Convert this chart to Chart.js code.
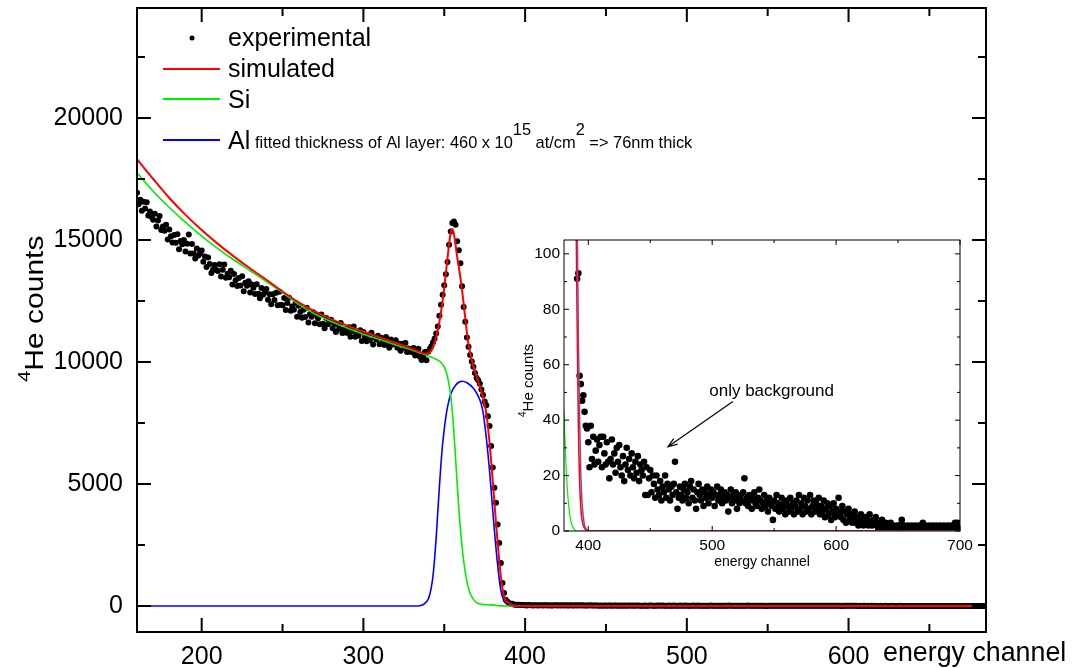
<!DOCTYPE html>
<html>
<head>
<meta charset="utf-8">
<script src="https://cdn.jsdelivr.net/npm/chart.js@4.4.0/dist/chart.umd.min.js"></script>
<style>
  body { margin: 0; background: #fff; }
  #box { position: relative; width: 1080px; height: 668px; overflow: hidden; }
  #main { position: absolute; left: 0; top: 0; }
  #inset { position: absolute; left: 500px; top: 232px; }
</style>
</head>
<body>
<div id="box">
  <canvas id="main" width="1080" height="668"></canvas>
  <canvas id="inset" width="480" height="345"></canvas>
</div>
<script>
var fontStack = '"Liberation Sans", Arial, Helvetica, sans-serif';
Chart.defaults.font.family = fontStack;
Chart.defaults.color = '#000';

// measured spectrum, one value per channel starting at firstChannel
var firstChannel = 160;
var expCounts = [
  16940, 16460, 16650, 16200, 16570, 16290, 16550, 16000, 16170, 15940,
  15830, 16080, 15550, 15800, 15980, 15410, 15550, 15380, 15620, 15020,
  15430, 15156, 14902, 15208, 14884, 15240, 14624, 14958, 14822, 14996,
  14530, 14850, 15230, 14450, 14840, 14450, 14246, 14652, 14368, 14454,
  14570, 14110, 14320, 13890, 14280, 14020, 13650, 13778, 13972, 13766,
  13730, 14008, 13506, 13784, 13992, 13450, 13618, 13476, 13744, 13172,
  13610, 13354, 13118, 13442, 13136, 13510, 12904, 13248, 13122, 13306,
  12850, 13176, 13042, 12788, 13184, 12800, 12610, 13030, 12760, 12860,
  12990, 12550, 12780, 12370, 12780, 12540, 12840, 12330, 12880, 12350,
  12330, 12618, 12126, 12414, 12632, 12100, 12276, 12142, 12418, 11854,
  12300, 12048, 11816, 12144, 11842, 12220, 11620, 11970, 11850, 12040,
  11590, 11922, 11794, 11546, 11948, 11570, 11384, 11808, 11542, 11646,
  11730, 11379, 11558, 11232, 11556, 11360, 11601, 11192, 11363, 11209,
  11195, 11428, 11036, 11274, 11452, 11030, 11175, 11075, 11305, 10860,
  11225, 11032, 10854, 11121, 10888, 11200, 10722, 11009, 10921, 11078,
  10725, 10992, 10894, 10701, 11028, 10730, 10582, 10924, 10716, 10803,
  10890, 10580, 10745, 10460, 10745, 10580, 10782, 10414, 10556, 10418,
  10410, 10570, 10265, 10425, 10545, 10215, 10080, 10240, 10410, 10070,
  10420, 10530, 10650, 10800, 10950, 11170, 11450, 11900, 12350, 12760,
  13150, 13600, 14100, 14800, 15350, 15700, 15760, 15620, 14950, 14580,
  14050, 13100, 12250, 11650, 11000, 10620, 10290, 10020, 9800, 9550,
  9340, 9250, 9110, 8870, 8650, 8380, 8230, 7780, 7380, 6560,
  5680, 4850, 4230, 3340, 2580, 1760, 940, 530, 260, 180,
  120, 91, 93, 56, 53, 47, 49, 43, 38, 37,
  32, 23, 38, 26, 34, 24, 29, 33, 25, 31,
  34, 23, 34, 28, 24, 32, 25, 19, 26, 33,
  24, 28, 21, 30, 25, 31, 23, 20, 27, 18,
  24, 30, 22, 26, 20, 28, 23, 19, 25, 21,
  27, 18, 24, 22, 20, 25, 13, 23, 13, 19,
  22, 14, 20, 17, 12, 20, 15, 13, 18, 11,
  16, 14, 20, 12, 17, 15, 11, 16, 13, 17,
  25, 14, 8, 12, 16, 13, 11, 15, 17, 12,
  14, 10, 16, 18, 12, 15, 11, 8, 14, 17,
  13, 11, 15, 9, 14, 12, 16, 10, 13, 15,
  12, 14, 9, 13, 16, 11, 13, 15, 10, 12,
  14, 11, 13, 7, 12, 15, 10, 13, 11, 14,
  8, 12, 10, 13, 11, 14, 19, 10, 12, 9,
  13, 11, 8, 12, 14, 10, 9, 12, 15, 11,
  8, 10, 13, 9, 11, 7, 12, 10, 9, 4,
  11, 8, 13, 10, 7, 9, 12, 8, 10, 6,
  11, 9, 7, 12, 8, 10, 6, 9, 11, 7,
  13, 8, 10, 6, 12, 9, 7, 11, 8, 13,
  6, 9, 11, 7, 10, 8, 12, 6, 9, 7,
  11, 5, 8, 10, 6, 9, 4, 7, 10, 5,
  8, 6, 12, 7, 5, 9, 4, 7, 3, 6,
  8, 4, 6, 3, 5, 7, 3, 5, 2, 4,
  6, 3, 2, 5, 3, 4, 2, 6, 3, 2,
  4, 3, 5, 2, 1, 3, 2, 4, 1, 2,
  3, 1, 2, 1, 3, 1, 2, 1, 1, 2,
  1, 2, 1, 4, 1, 2, 1, 1, 2, 1,
  1, 2, 1, 1, 2, 1, 1, 2, 1, 1,
  3, 1, 2, 1, 1, 2, 1, 1, 2, 1,
  1, 2, 1, 1, 2, 1, 1, 2, 1, 1,
  2, 1, 1, 2, 1, 1, 3, 2, 3, 2,
  1
];

// simulated total
var simChannels = [160, 170, 180, 190, 200, 210, 220, 230, 240, 250, 260, 270, 280, 290, 300, 310, 320, 330,
  335, 338, 340, 342, 344, 346, 348, 350, 352, 353, 354, 355, 356, 357, 358, 359, 360, 361, 362, 363, 364,
  365, 366, 367, 368, 370, 372, 374, 375, 376, 377, 378, 379, 380, 381, 382, 383, 384, 385, 386, 387, 388,
  389, 390, 391, 392, 393, 394, 395, 396, 397, 399, 700];
var simCounts = [18310, 17500, 16720, 16030, 15410, 14840, 14320, 13830, 13370, 12890, 12440, 12070, 11760, 11490, 11240, 11010, 10780, 10540,
  10410, 10340, 10360, 10480, 10780, 11300, 12050, 13050, 14250, 14850, 15300, 15450, 15250, 14800, 14300, 13900, 13450, 12950, 12380, 11800, 11200,
  10720, 10380, 10080, 9830, 9400, 9000, 8560, 8250, 7900, 7350, 6700, 5950, 5100, 4250, 3400, 2600, 1850, 1200, 700, 380, 200,
  140, 120, 75, 38, 18, 8, 4, 2, 1, 0, 0];

// Si substrate contribution
var siChannels = [160, 170, 180, 190, 200, 210, 220, 230, 240, 250, 260, 270, 280, 290, 300, 310, 320, 330,
  335, 340, 345, 348, 350, 352, 353, 354, 355, 356, 357, 358, 359, 360, 361, 362, 363, 364, 365, 366, 368,
  370, 372, 375, 378, 380, 381, 382, 383, 384, 385, 386, 387, 388, 390, 700];
var siCounts = [17750, 17000, 16330, 15720, 15160, 14650, 14180, 13740, 13300, 12840, 12360, 11970, 11660, 11390, 11140, 10920, 10700, 10490,
  10380, 10250, 10110, 9980, 9800, 9400, 9050, 8600, 7950, 7050, 6050, 5000, 4000, 3150, 2450, 1850, 1380, 1000, 720, 520, 270,
  140, 80, 55, 48, 45, 35, 24, 16, 10, 6, 3.5, 2, 1, 0, 0];

// Al layer contribution
var alChannels = [160, 334, 336, 338, 340, 341, 342, 343, 344, 345, 346, 347, 348, 349, 350, 351, 352, 354, 357,
  361, 364, 368, 371, 373, 374, 375, 376, 377, 378, 379, 380, 381, 382, 383, 384, 385, 386, 387, 388, 389,
  390, 391, 392, 393, 394, 395, 396, 397, 398, 400, 700];
var alCounts = [0, 0, 30, 110, 270, 460, 760, 1220, 1900, 2800, 3850, 4900, 5850, 6650, 7250, 7750, 8150, 8680, 9050,
  9210, 9150, 8920, 8600, 8250, 7950, 7450, 6900, 6250, 5550, 4750, 3900, 3100, 2350, 1700, 1100, 650, 370, 250, 200, 175,
  150, 115, 70, 40, 20, 10, 5, 2, 1, 0, 0];

var mainXTicks = [200, 300, 400, 500, 600];
var mainXMinor = [250, 350, 450, 550, 650];
var mainYTicks = [0, 5000, 10000, 15000, 20000];
var mainYMinor = [2500, 7500, 12500, 17500, 22500];
var insetXTicks = [400, 500, 600, 700];
var insetXMinor = [450, 550, 650];
var insetYTicks = [0, 20, 40, 60, 80, 100];
var insetYMinor = [10, 30, 50, 70, 90];

var legendNames = ['experimental', 'simulated', 'Si', 'Al'];
var noteParts = [
  { text: 'fitted thickness of Al layer: 460 x 10' },
  { text: '15', sup: true },
  { text: ' at/cm' },
  { text: '2', sup: true },
  { text: ' => 76nm thick' }
];
var countsTitle = [{ text: '4', sup: true }, { text: 'He counts' }];
// annotation in the inset, in data units (channel, counts)
var bgLabel = { x: 497.6, y: 48.6, text: 'only background' };
var bgArrow = { x1: 516.7, y1: 46.7, x2: 464.3, y2: 30.4 };

var colSim = '#ff0000', colSi = '#00ee00', colAl = '#0000ff';

function xy(xs, ys) {
  return xs.map(function(x, i) { return { x: x, y: ys[i] }; });
}
var expPoints = expCounts.map(function(c, i) { return { x: firstChannel + i, y: c }; });

function curve(label, xs, ys, color, width, order) {
  return {
    label: label, data: xy(xs, ys), showLine: true, borderColor: color, borderWidth: width,
    pointRadius: 0, cubicInterpolationMode: 'monotone', fill: false, order: order
  };
}

function fixedTicks(list) {
  return function(scale) { scale.ticks = list.map(function(v) { return { value: v }; }); };
}

function drawRich(ctx, parts, x, y, size, supSize, rise) {
  parts.forEach(function(p) {
    ctx.font = (p.sup ? supSize : size) + 'px ' + fontStack;
    ctx.fillText(p.text, x, p.sup ? y - rise : y);
    x += ctx.measureText(p.text).width;
  });
}

function framePlugin(o) {
  return {
    id: 'frame',
    afterDatasetsDraw: function(chart) {
      var ctx = chart.ctx, a = chart.chartArea, sx = chart.scales.x, sy = chart.scales.y;
      ctx.save();
      ctx.strokeStyle = '#000';
      ctx.lineWidth = o.lineWidth;
      ctx.beginPath();
      function xt(v, len) {
        var p = sx.getPixelForValue(v);
        ctx.moveTo(p, a.bottom); ctx.lineTo(p, a.bottom - len);
        ctx.moveTo(p, a.top); ctx.lineTo(p, a.top + len);
      }
      function yt(v, len) {
        var p = sy.getPixelForValue(v);
        ctx.moveTo(a.left, p); ctx.lineTo(a.left + len, p);
        ctx.moveTo(a.right, p); ctx.lineTo(a.right - len, p);
      }
      o.xMajor.forEach(function(v) { xt(v, o.major); });
      o.xMinor.forEach(function(v) { xt(v, o.minor); });
      o.yMajor.forEach(function(v) { yt(v, o.major); });
      o.yMinor.forEach(function(v) { yt(v, o.minor); });
      ctx.stroke();
      ctx.strokeRect(a.left, a.top, a.right - a.left, a.bottom - a.top);
      ctx.restore();
      ctx.save();
      ctx.fillStyle = '#000';
      ctx.strokeStyle = '#000';
      o.extra(chart, ctx, a, sx, sy);
      ctx.restore();
    }
  };
}

function axisX(min, max, ticks, size, pad, height) {
  return {
    type: 'linear', min: min, max: max,
    afterBuildTicks: fixedTicks(ticks),
    afterFit: function(s) { s.height = height; s.paddingLeft = 0; s.paddingRight = 0; },
    grid: { display: false, drawTicks: false }, border: { display: false },
    ticks: { font: { size: size }, color: '#000', padding: pad, maxRotation: 0, autoSkip: false,
      callback: function(v) { return String(v); } }
  };
}
function axisY(min, max, ticks, size, pad, width) {
  return {
    type: 'linear', min: min, max: max,
    afterBuildTicks: fixedTicks(ticks),
    afterFit: function(s) { s.width = width; s.paddingTop = 0; s.paddingBottom = 0; },
    grid: { display: false, drawTicks: false }, border: { display: false },
    ticks: { font: { size: size }, color: '#000', padding: pad, autoSkip: false,
      callback: function(v) { return String(v); } }
  };
}

// main spectrum
new Chart(document.getElementById('main'), {
  type: 'scatter',
  data: {
    datasets: [
      curve(legendNames[1], simChannels, simCounts, colSim, 2, 0),
      curve(legendNames[2], siChannels, siCounts, colSi, 1.6, 1),
      curve(legendNames[3], alChannels, alCounts, colAl, 1.6, 2),
      { label: legendNames[0], data: expPoints, pointRadius: 3, pointBackgroundColor: '#000',
        pointBorderWidth: 0, order: 3 }
    ]
  },
  options: {
    responsive: false, animation: false, events: [],
    layout: { padding: { left: 0, top: 8, right: 94, bottom: 0 } },
    plugins: { legend: { display: false }, tooltip: { enabled: false } },
    scales: {
      x: axisX(160, 685, mainXTicks, 25, 10, 36),
      y: axisY(-1066, 24508, mainYTicks, 25, 14, 137)
    }
  },
  plugins: [framePlugin({
    lineWidth: 2, major: 14, minor: 8,
    xMajor: mainXTicks, xMinor: mainXMinor, yMajor: mainYTicks, yMinor: mainYMinor,
    extra: function(chart, ctx, a) {
      // legend
      ctx.font = '25px ' + fontStack;
      ctx.beginPath();
      ctx.arc(a.left + 55, a.top + 30, 2.5, 0, Math.PI * 2);
      ctx.fill();
      ctx.fillText(legendNames[0], a.left + 91, a.top + 38);
      [[colSim, 61, 69], [colSi, 91, 100], [colAl, 132, 141]].forEach(function(r, i) {
        ctx.strokeStyle = r[0];
        ctx.lineWidth = 2;
        ctx.beginPath();
        ctx.moveTo(a.left + 26, a.top + r[1]);
        ctx.lineTo(a.left + 83, a.top + r[1]);
        ctx.stroke();
        ctx.font = '25px ' + fontStack;
        ctx.fillText(legendNames[i + 1], a.left + 91, a.top + r[2]);
      });
      drawRich(ctx, noteParts, a.left + 118, a.top + 140, 16.4, 16.4, 13);
      // axis titles
      ctx.font = '26.8px ' + fontStack;
      ctx.fillText('energy channel', 883, 661);
      ctx.save();
      ctx.translate(43, 382);
      ctx.rotate(-Math.PI / 2);
      ctx.scale(1.2, 1);
      drawRich(ctx, countsTitle, 0, 0, 25, 17, 13);
      ctx.restore();
    }
  })]
});

// inset: background region
new Chart(document.getElementById('inset'), {
  type: 'scatter',
  data: {
    datasets: [
      curve(legendNames[1], simChannels, simCounts, colSim, 1.5, 1),
      curve(legendNames[3], alChannels, alCounts, '#a0408c', 1.5, 0),
      curve(legendNames[2], siChannels, siCounts, colSi, 1.2, 2),
      { label: legendNames[0], data: expPoints, pointRadius: 3.3, pointBackgroundColor: '#000',
        pointBorderWidth: 0, order: 3 }
    ]
  },
  options: {
    responsive: false, animation: false, events: [],
    layout: { padding: { left: 0, top: 8, right: 20, bottom: 0 } },
    plugins: { legend: { display: false }, tooltip: { enabled: false } },
    scales: {
      x: axisX(380.4, 700, insetXTicks, 15.5, 5, 46),
      y: axisY(0, 105, insetYTicks, 15.5, 4, 64)
    }
  },
  plugins: [framePlugin({
    lineWidth: 1, major: 5, minor: 3,
    xMajor: insetXTicks, xMinor: insetXMinor, yMajor: insetYTicks, yMinor: insetYMinor,
    extra: function(chart, ctx, a, sx, sy) {
      ctx.font = '17px ' + fontStack;
      ctx.fillText(bgLabel.text, sx.getPixelForValue(bgLabel.x), sy.getPixelForValue(bgLabel.y));
      var x1 = sx.getPixelForValue(bgArrow.x1), y1 = sy.getPixelForValue(bgArrow.y1);
      var x2 = sx.getPixelForValue(bgArrow.x2), y2 = sy.getPixelForValue(bgArrow.y2);
      var ang = Math.atan2(y1 - y2, x1 - x2);
      ctx.lineWidth = 1.2;
      ctx.beginPath();
      ctx.moveTo(x1, y1); ctx.lineTo(x2, y2);
      ctx.moveTo(x2 + 10 * Math.cos(ang - 0.35), y2 + 10 * Math.sin(ang - 0.35));
      ctx.lineTo(x2, y2);
      ctx.lineTo(x2 + 10 * Math.cos(ang + 0.35), y2 + 10 * Math.sin(ang + 0.35));
      ctx.stroke();
      ctx.font = '14px ' + fontStack;
      ctx.textAlign = 'center';
      ctx.fillText('energy channel', (a.left + a.right) / 2, a.bottom + 35);
      ctx.textAlign = 'left';
      ctx.save();
      ctx.translate(a.left - 31, a.top + 177);
      ctx.rotate(-Math.PI / 2);
      drawRich(ctx, countsTitle, 0, 0, 15, 10, 7);
      ctx.restore();
    }
  })]
});
</script>
</body>
</html>
